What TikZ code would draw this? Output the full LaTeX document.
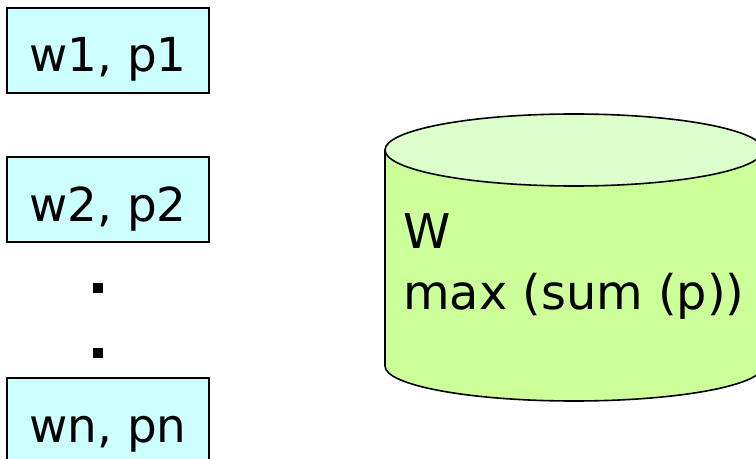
\documentclass[tikz,border=0pt]{standalone}
\usepackage{fontspec}
\setmainfont{DejaVu Sans}
\begin{document}
\begin{tikzpicture}[x=1bp,y=-1bp,
  item/.style={draw=black,line width=2bp,fill=itemfill,minimum width=201bp,
    minimum height=85bp,inner sep=0pt,text height=43bp,text depth=0bp,
    font=\fontsize{47}{56}\selectfont},
  dot/.style={fill=black,minimum size=10bp,inner sep=0pt},
  label/.style={anchor=base west,inner sep=0pt,font=\fontsize{48}{58}\selectfont},
  body/.style={fill=drumside,draw=black,line width=1.6bp},
  lid/.style={fill=drumtop,draw=black,line width=1.6bp}]
\definecolor{itemfill}{HTML}{CCFFFF}
\definecolor{drumside}{HTML}{CCFF99}
\definecolor{drumtop}{HTML}{DDFFCC}
\useasboundingbox (0,0) rectangle (756,459);
\clip (0,0) rectangle (756,459);
% weight/profit items
\node[item] (i1) at (108,50.5) {w1, p1};
\node[item] (i2) at (108,200) {w2, p2};
\node[dot] (d1) at (97.5,288.5) {};
\node[dot] (d2) at (97.5,352.5) {};
\node[item] (in) at (108,420.5) {wn, pn};
% knapsack drum
\path[body] (385,150) -- (385,366) arc[start angle=180,end angle=0,x radius=189,y radius=35]
  -- (763,150) -- cycle;
\path[lid] (574,150) ellipse[x radius=189,y radius=36];
\node[label] (cap) at (403,249) {W};
\node[label] (goal) at (403,310) {max (sum (p))};
\end{tikzpicture}
\end{document}
